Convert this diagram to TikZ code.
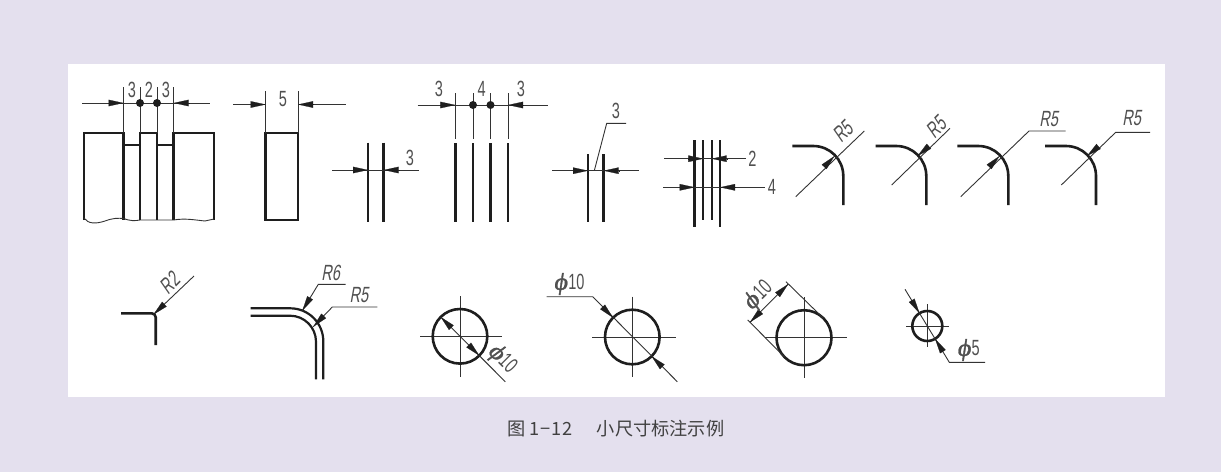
\documentclass[tikz,border=0pt]{standalone}
\usepackage{fontspec}
\usetikzlibrary{arrows.meta,calc}
\newfontfamily\dimf[FakeStretch=0.66]{Liberation Sans}
\newfontfamily\dimi[FakeStretch=0.66,FakeSlant=0.18]{Liberation Sans}
\newfontfamily\phif[FakeStretch=1.1,FakeSlant=0.15,FakeBold=1.5]{Liberation Serif}
\newfontfamily\cjk{Noto Sans CJK SC}
\definecolor{bgc}{HTML}{E4E0EE}
\definecolor{ink}{HTML}{1E1E1E}
\definecolor{thinc}{HTML}{333333}
\definecolor{txtc}{HTML}{505050}
\newcommand{\tipto}[2]{\draw[tipst] ($(#2)!15pt!(#1)$) -- (#2);}
\newcommand{\phisym}{{\phif\fontsize{24}{24}\selectfont\symbol{"03D5}}\hspace{1pt}}
\newcommand{\dn}{\dimf\fontsize{22}{22}\selectfont}
\tikzset{
  thk/.style={draw=ink,line width=2.6pt,line cap=butt,line join=miter},
  thn/.style={draw=thinc,line width=0.9pt},
  tipst/.style={draw=ink,line width=0.2pt,-{Triangle[length=15pt,width=6.5pt,fill=ink]}},
  dot/.style={fill=ink,draw=none},
  dimt/.style={font=\dn,text=txtc,inner sep=0pt},
  dimr/.style={font=\dimi\fontsize{22}{22}\selectfont,text=txtc,inner sep=0pt},
}
\begin{document}
\begin{tikzpicture}[x=1pt,y=-1pt]
\useasboundingbox (0,0) rectangle (1221,472);
\fill[bgc] (0,0) rectangle (1221,472);
\fill[white] (68,64) rectangle (1165,397);

% 1 slotted part
\draw[thk] (84,220)--(84,133)--(123.5,133)--(123.5,220);
\draw[thk] (123.5,145)--(140,145);
\draw[thk] (140,220)--(140,133)--(157,133)--(157,220);
\draw[thk] (157,145)--(173.7,145);
\draw[thk] (173.7,220)--(173.7,133)--(214,133)--(214,220);
\draw[thn] (84,218) .. controls (88,224) and (96,224) .. (105,221) .. controls (113,218) and (118,218) .. (123.5,218.5)
  .. controls (130,221) and (135,221) .. (140,220) -- (157,220) -- (173.7,220) .. controls (185,218) and (195,220) .. (205,221) -- (214,219);
\foreach \x in {123.5,140,157,173.7} \draw[thn] (\x,87)--(\x,133);
\draw[thn] (82,103)--(210,103);
\coordinate (a1) at (123.5,103); \coordinate (a0) at (82,103);
\coordinate (a2) at (173.7,103); \coordinate (a3) at (210,103);
\tipto{a0}{a1} \tipto{a3}{a2}
\fill[dot] (140,103) circle[radius=4pt] (157,103) circle[radius=4pt];
\node[dimt] (t1) at (132,90) {3};
\node[dimt] (t2) at (149,90) {2};
\node[dimt] (t3) at (166,90) {3};

% 2 rectangle
\draw[thk] (265.7,133) rectangle (298,220);
\draw[thn] (265.7,91)--(265.7,133) (298,91)--(298,133);
\draw[thn] (233,104.5)--(265.7,104.5) (298,104.5)--(346,104.5);
\coordinate (b0) at (233,104.5); \coordinate (b1) at (265.7,104.5);
\coordinate (b2) at (298,104.5); \coordinate (b3) at (346,104.5);
\tipto{b0}{b1} \tipto{b3}{b2}
\node[dimt] (t4) at (283,99) {5};

% 3 two lines
\draw[thk] (368,142.7)--(368,221.7) (383.7,142.7)--(383.7,221.7);
\draw[thn] (332,170)--(419,170);
\coordinate (c0) at (332,170); \coordinate (c1) at (368,170);
\coordinate (c2) at (383.7,170); \coordinate (c3) at (419,170);
\tipto{c0}{c1} \tipto{c3}{c2}
\node[dimt] (t5) at (410,157.7) {3};

% 4 four lines
\foreach \x in {455.3,473,490.5,508} {
  \draw[thk] (\x,143)--(\x,221.7);
  \draw[thn] (\x,93)--(\x,139);
}
\draw[thn] (417.7,105)--(547.7,105);
\coordinate (d0) at (417.7,105); \coordinate (d1) at (455.3,105);
\coordinate (d2) at (508,105); \coordinate (d3) at (547.7,105);
\tipto{d0}{d1} \tipto{d3}{d2}
\fill[dot] (473,105) circle[radius=4pt] (490.5,105) circle[radius=4pt];
\node[dimt] (t6) at (439,88.5) {3};
\node[dimt] (t7) at (481.7,88.5) {4};
\node[dimt] (t8) at (521,88.5) {3};

% 5 two lines with leader
\draw[thk] (588,154)--(588,221.7) (603.7,154)--(603.7,221.7);
\draw[thn] (552,170.7)--(639,170.7);
\coordinate (e0) at (552,170.7); \coordinate (e1) at (588,170.7);
\coordinate (e2) at (603.7,170.7); \coordinate (e3) at (639,170.7);
\tipto{e0}{e1} \tipto{e3}{e2}
\draw[thn] (594.3,170.7)--(606.7,123.3)--(626,123.3);
\node[dimt] (t9) at (616,110.7) {3};

% 6 layered lines
\draw[thk] (694.7,140)--(694.7,226.7) (720,140)--(720,226.7);
\draw[thk,line width=2pt] (703.3,140)--(703.3,220) (711.7,140)--(711.7,220);
\draw[thn] (664,158.7)--(746,158.7) (663,187.3)--(765,187.3);
\coordinate (f0) at (664,158.7); \coordinate (f1) at (703.3,158.7);
\coordinate (f2) at (711.7,158.7); \coordinate (f3) at (746,158.7);
\coordinate (g0) at (663,187.3); \coordinate (g1) at (694.7,187.3);
\coordinate (g2) at (720,187.3); \coordinate (g3) at (765,187.3);
\tipto{f0}{f1} \tipto{f3}{f2} \tipto{g0}{g1} \tipto{g3}{g2}
\node[dimt] (t10) at (752.3,158.7) {2};
\node[dimt] (t11) at (772,187.3) {4};

% 7-10 corners
\draw[thk,rounded corners=30pt] (792.3,146)--(843.3,146)--(843.3,205);
\draw[thn] (795.7,196.7)--(864.3,131);
\coordinate (h0) at (795.7,196.7); \coordinate (h1) at (834.5,156);
\tipto{h0}{h1}
\node[dimr,rotate=45] (t12) at (842.7,131.7) {R5};

\draw[thk,rounded corners=30pt] (875.7,146)--(926.3,146)--(926.3,205);
\draw[thn] (891.7,185)--(950,128.3);
\coordinate (i0) at (950,128.3); \coordinate (i1) at (917.5,156);
\tipto{i0}{i1}
\node[dimr,rotate=45] (t13) at (936,127.3) {R5};

\draw[thk,rounded corners=30pt] (957.3,146)--(1008.3,146)--(1008.3,205);
\draw[thn] (960.7,196.7)--(1029,131)--(1065.7,131);
\coordinate (j0) at (960.7,196.7); \coordinate (j1) at (999.5,156);
\tipto{j0}{j1}
\node[dimr] (t14) at (1048.7,119) {R5};

\draw[thk,rounded corners=30pt] (1045,146)--(1096,146)--(1096,205);
\draw[thn] (1061.3,185)--(1115.7,132.3)--(1150,132.3);
\coordinate (k0) at (1115.7,132.3); \coordinate (k1) at (1087,156);
\tipto{k0}{k1}
\node[dimr] (t15) at (1131.7,118.3) {R5};

% 11 small radius
\draw[thk,rounded corners=4pt] (121,313.3)--(155.7,313.3)--(155.7,345);
\draw[thn] (153.5,314.5)--(194,276);
\coordinate (m0) at (194,276); \coordinate (m1) at (153.5,314.5);
\tipto{m0}{m1}
\node[dimr,rotate=45] (t16) at (169.3,283.3) {R2};

% 12 double corner
\draw[thk,line width=2.2pt,rounded corners=33pt] (250.7,308.3)--(323.3,308.3)--(323.3,379.3);
\draw[thk,line width=2.2pt,rounded corners=26pt] (250.7,315.7)--(316,315.7)--(316,379.3);
\draw[thn] (302.3,310.7)--(318.3,284.3)--(345.7,284.3);
\draw[thn] (313.3,326.7)--(332.3,307)--(377.3,307);
\coordinate (n0) at (318.3,284.3); \coordinate (n1) at (302.3,310.7);
\coordinate (o0) at (332.3,307); \coordinate (o1) at (313.3,326.7);
\tipto{n0}{n1} \tipto{o0}{o1}
\node[dimr] (t17) at (330.7,273.3) {R6};
\node[dimr] (t18) at (359,295) {R5};

% 13 circle, inner arrows
\coordinate (p) at (460,336.3);
\draw[thn] (420,336.3)--(502.3,336.3) (460,296)--(460,376.7);
\draw[thk] (p) circle[radius=27.3pt];
\coordinate (p1) at (440.7,317); \coordinate (p2) at (479.3,355.6); \coordinate (p3) at (505.3,381.7);
\draw[thn] (p1)--(p3);
\tipto{p2}{p1} \tipto{p1}{p2}
\node[dimt,rotate=-45] (t19) at (502,359) {\phisym 10};

% 14 circle, outer arrows
\coordinate (q) at (632.3,337);
\draw[thn] (592.3,337)--(675.7,337) (632.3,296.7)--(632.3,377.3);
\draw[thk] (q) circle[radius=27.3pt];
\coordinate (q0) at (592.7,296.7); \coordinate (q1) at (613,317.7);
\coordinate (q2) at (651.6,356.3); \coordinate (q3) at (677.3,381.7);
\draw[thn] (546.7,296.7)--(q0)--(q3);
\tipto{q0}{q1} \tipto{q3}{q2}
\node[dimt] (t20) at (569,284) {\phisym 10};

% 15 circle, tangent extension lines
\coordinate (s) at (804,337.7);
\draw[thn] (765,337.7)--(846.7,337.7) (804,297)--(804,378.3);
\draw[thk] (s) circle[radius=27.5pt];
\draw[thn] (786,281.7)--(823.4,318.3) (747.7,320)--(784.6,357.1);
\coordinate (s1) at (750,322.3); \coordinate (s2) at (788.15,284.15);
\draw[thn] (s1)--(s2);
\tipto{s2}{s1} \tipto{s1}{s2}
\node[dimt,rotate=45] (t21) at (758.3,296) {\phisym 10};

% 16 small circle
\coordinate (u) at (927.3,326);
\draw[thn] (906,326)--(949,326) (927.3,304.3)--(927.3,347.3);
\draw[thk] (u) circle[radius=15pt];
\coordinate (u0) at (905,289.3); \coordinate (u1) at (919.5,313.2);
\coordinate (u2) at (935.1,338.8); \coordinate (u3) at (949.3,362.3);
\draw[thn] (u0)--(u3)--(985,362.3);
\tipto{u0}{u1} \tipto{u3}{u2}
\node[dimt] (t22) at (968.3,350) {\phisym 5};

% caption
\node[anchor=west,inner sep=0pt,font=\cjk\fontsize{18.2}{19}\selectfont,text=txtc!80!black] (cap) at (507,429) {图 1\hspace{1pt}−\hspace{1pt}1\hspace{1pt}2\hspace{24pt}小尺寸标注示例};
\end{tikzpicture}
\end{document}
